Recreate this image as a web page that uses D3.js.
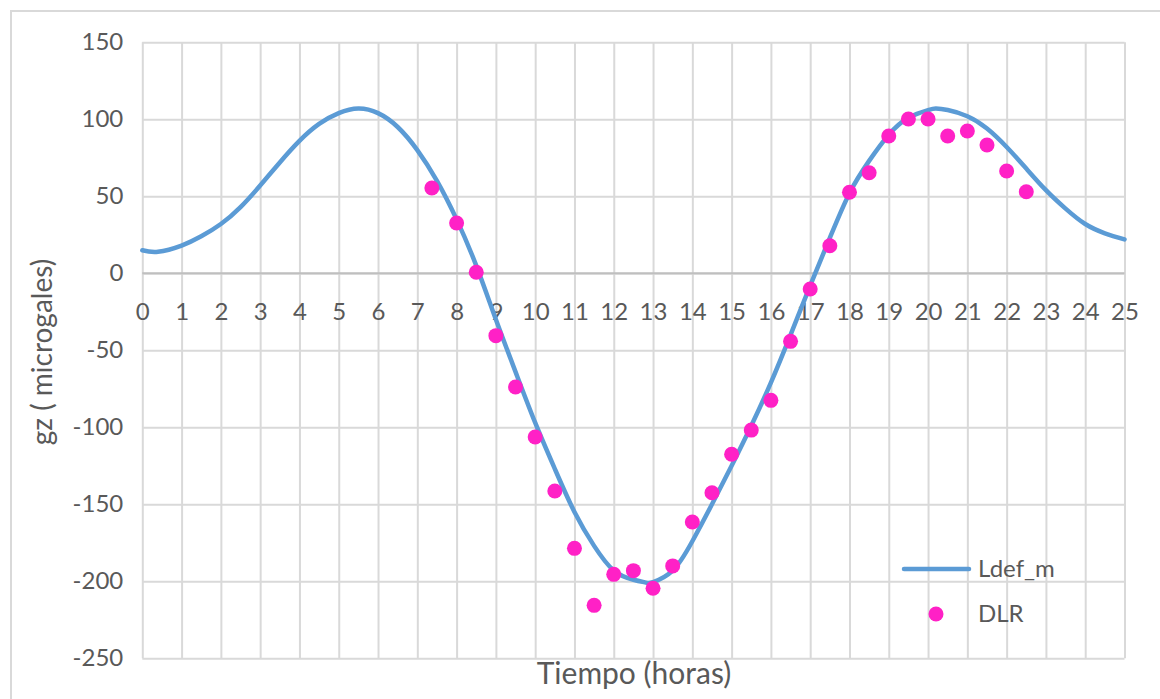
<!DOCTYPE html>
<html>
<head>
<meta charset="utf-8">
<script src="https://cdn.jsdelivr.net/npm/d3@7"></script>
<style>
  html, body { margin: 0; padding: 0; background: #ffffff; }
  svg { display: block; }
  text { font-family: Lato, "Open Sans", "Liberation Sans", sans-serif; fill: #595959; }
</style>
</head>
<body>
<svg id="chart" width="1160" height="699"></svg>
<script>
// ---- Data ----
const lineName = "Ldef_m";
const pointName = "DLR";
const lineHours = [0, 0.4, 1, 1.5, 2, 2.5, 3, 3.5, 4, 4.5, 5, 5.5, 6, 6.5, 7, 7.5, 8, 8.5, 9, 9.5,
  10, 10.5, 11, 11.5, 12, 12.5, 12.85, 13, 13.5, 14, 14.5, 15, 15.5, 16, 16.5, 17, 17.5, 18, 18.5, 19,
  19.5, 20, 20.2, 20.5, 21, 21.5, 22, 22.5, 23, 23.5, 24, 24.5, 25];
const lineValues = [15, 14, 18, 24, 32, 43, 57, 72, 86, 97, 104, 107, 104, 95, 80, 60, 35, 5, -30, -64,
  -97, -127, -155, -177, -193, -199, -201, -200.5, -193, -174, -150, -125, -99, -71, -40, -8, 23, 52, 73, 90,
  101, 106, 107, 106, 102, 94, 82, 68, 54, 42, 32, 26, 22];
const pointHours = [7.37, 8, 8.5, 9, 9.5, 10, 10.5, 11, 11.5, 12, 12.5, 13, 13.5, 14, 14.5, 15, 15.5, 16,
  16.5, 17, 17.5, 18, 18.5, 19, 19.5, 20, 20.5, 21, 21.5, 22, 22.5];
const pointValues = [55.4, 32.7, 0.7, -40.5, -73.8, -106.3, -141.4, -178.6, -215.6, -195.5, -193.1, -204.5,
  -190, -161.5, -142.5, -117.5, -101.8, -82.5, -44.2, -10.2, 17.9, 52.6, 65.3, 89.2, 100.2, 100.2, 89.2,
  92.4, 83.3, 66.4, 53];
const xTicks = d3.range(0, 26, 1);
const yTicks = [-250, -200, -150, -100, -50, 0, 50, 100, 150];
const xTitle = "Tiempo (horas)";
const yTitle = "gz ( microgales)";

// ---- Layout ----
const svg = d3.select("#chart");
const pLeft = 142.3, pRight = 1124.5, pTop = 42.3, pBottom = 658.3;
const x = d3.scaleLinear().domain([0, 25]).range([pLeft, pRight]);
const y = d3.scaleLinear().domain([-250, 150]).range([pBottom, pTop]);
const gridColor = "#d9d9d9";
const fontStack = "Lato, 'Open Sans', 'Liberation Sans', sans-serif";
const fmt = d => String(d);   // plain hyphen-minus as in the original

// outer chart border
svg.append("rect").attr("x", 11).attr("y", 11).attr("width", 1170).attr("height", 700)
  .attr("fill", "none").attr("stroke", gridColor).attr("stroke-width", 2);

// gridlines
const gx = svg.append("g").attr("transform", `translate(0,${pBottom})`)
  .call(d3.axisBottom(x).tickValues(xTicks).tickSize(-(pBottom - pTop)).tickFormat(""));
const gy = svg.append("g").attr("transform", `translate(${pLeft},0)`)
  .call(d3.axisLeft(y).tickValues(yTicks).tickSize(-(pRight - pLeft)).tickFormat(""));
[gx, gy].forEach(g => {
  g.select(".domain").remove();
  g.selectAll(".tick line").attr("stroke", gridColor).attr("stroke-width", 2);
});

// zero axis line
svg.append("line").attr("x1", pLeft).attr("x2", pRight).attr("y1", y(0)).attr("y2", y(0))
  .attr("stroke", "#bfbfbf").attr("stroke-width", 2);

// y tick labels
const yl = svg.append("g").attr("transform", `translate(${pLeft},0)`)
  .call(d3.axisLeft(y).tickValues(yTicks).tickSize(0).tickPadding(19).tickFormat(fmt));
yl.select(".domain").remove();
yl.selectAll("text").style("font-size", "24px").attr("fill", "#595959").style("font-family", fontStack);

// x tick labels, on the zero line
const xl = svg.append("g").attr("transform", `translate(0,${y(0)})`)
  .call(d3.axisBottom(x).tickValues(xTicks).tickSize(0).tickFormat(fmt));
xl.select(".domain").remove();
xl.selectAll("text").style("font-size", "24px").attr("fill", "#595959")
  .attr("y", 38).attr("dy", "0.35em").style("font-family", fontStack);

// line series
const lineData = lineHours.map((h, i) => [h, lineValues[i]]);
svg.append("path").datum(lineData)
  .attr("fill", "none").attr("stroke", "#5b9bd5").attr("stroke-width", 4.5)
  .attr("stroke-linecap", "round")
  .attr("d", d3.line().x(d => x(d[0])).y(d => y(d[1])).curve(d3.curveNatural));

// point series
svg.append("g").selectAll("circle").data(pointHours.map((h, i) => [h, pointValues[i]]))
  .join("circle").attr("cx", d => x(d[0])).attr("cy", d => y(d[1])).attr("r", 7.5)
  .attr("fill", "#ff21c6");

// axis titles
svg.append("text").attr("x", 634).attr("y", 684).attr("text-anchor", "middle")
  .style("font-size", "30px").text(xTitle);
svg.append("text").attr("transform", "translate(52,352) rotate(-90)").attr("text-anchor", "middle")
  .style("font-size", "28px").text(yTitle);

// legend
const lg = svg.append("g");
lg.append("line").attr("x1", 904).attr("x2", 969).attr("y1", 569).attr("y2", 569)
  .attr("stroke", "#5b9bd5").attr("stroke-width", 4.5).attr("stroke-linecap", "round");
lg.append("text").attr("x", 978).attr("y", 569).attr("dy", "0.35em").style("font-size", "24px").text(lineName);
lg.append("circle").attr("cx", 936).attr("cy", 614).attr("r", 7.5).attr("fill", "#ff21c6");
lg.append("text").attr("x", 978).attr("y", 614).attr("dy", "0.35em").style("font-size", "24px").text(pointName);
</script>
</body>
</html>
